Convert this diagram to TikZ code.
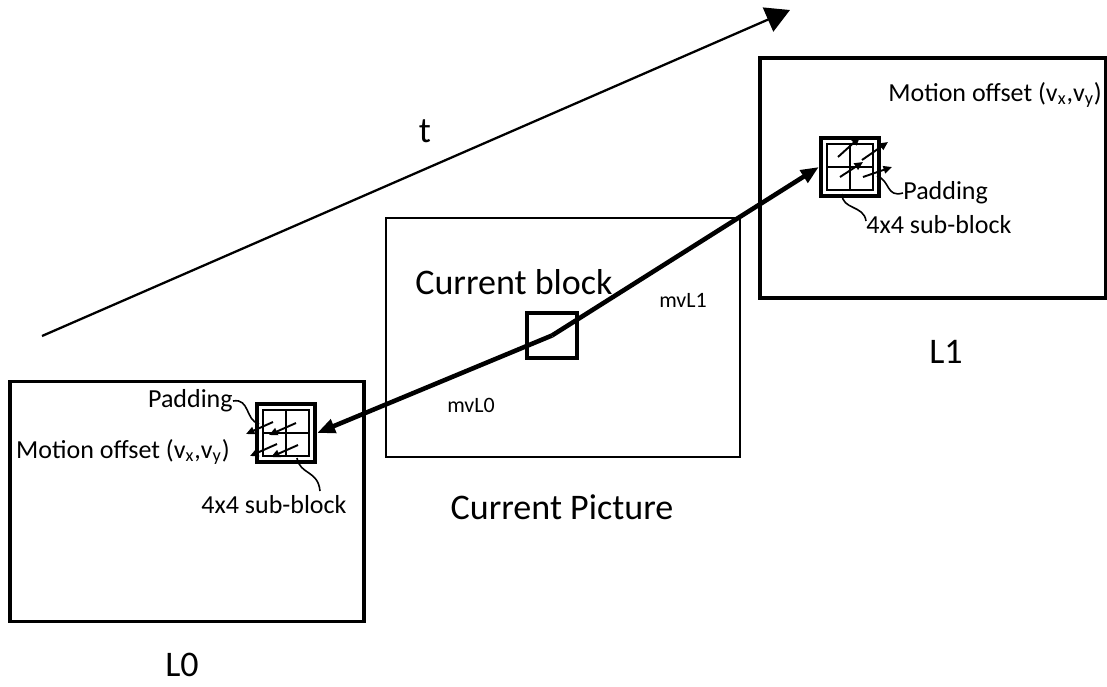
\documentclass[tikz,border=0pt]{standalone}
\usepackage{fontspec}
\setmainfont{Carlito}
\usetikzlibrary{arrows.meta}

\begin{document}
\begin{tikzpicture}[x=0.02cm, y=-0.02cm,
  every node/.style={inner sep=0pt, font=\fontsize{14.8}{17}\selectfont},
  bigtxt/.style={font=\fontsize{20.5}{24}\selectfont},
  mvtxt/.style={font=\fontsize{12.5}{15}\selectfont},
  picframe/.style={draw, line width=2pt, minimum width=7.08cm, minimum height=4.8cm},
  blkout/.style={draw, line width=2.4pt, minimum size=1.16cm},
  blkin/.style={draw, line width=1pt, minimum size=0.92cm},
  curblk/.style={draw, line width=1.8pt, minimum width=1cm, minimum height=0.9cm},
  mvarrow/.style={line width=2.6pt, -{Triangle[length=0.36cm, width=0.28cm]}},
  offarrow/.style={line width=1.1pt, -{Triangle[length=0.17cm, width=0.15cm]}},
  leader/.style={line width=0.9pt}]
\useasboundingbox (0,0) rectangle (1107,687);

% ============= time axis =============
\coordinate (tstart) at (42,336);
\coordinate (tend) at (790,10);
\draw[line width=1.3pt, -{Triangle[length=0.48cm, width=0.52cm]}] (tstart) -- (tend);
\node[bigtxt] (tlbl) at (425,131) {t};

% ============= three pictures =============
\node[picframe] (pic0) at (187,501.5) {};
\node[picframe, line width=1.6pt, minimum height=4.78cm] (piccur) at (563,337.5) {};
\node[picframe, minimum width=6.92cm] (pic1) at (933,178) {};

\node[bigtxt] (lbl0) at (182,665) {L0};
\node[bigtxt] (lblcur) at (562,507) {Current Picture};
\node[bigtxt] (lbl1) at (946,352) {L1};

% --- current block ---
\node[curblk] (cblk) at (552,335.5) {};
\node[bigtxt] (cblklbl) at (514,282) {Current block};

% --- reference blocks (padded, split in 4x4 sub-blocks) ---
\node[blkout] (blk0) at (286,433) {};
\node[blkin] (blk0in) at (blk0.center) {};
\draw[line width=1.4pt] (blk0in.north) -- (blk0in.south) (blk0in.west) -- (blk0in.east);

\node[blkout] (blk1) at (850,167) {};
\node[blkin] (blk1in) at (blk1.center) {};
\draw[line width=1.4pt] (blk1in.north) -- (blk1in.south) (blk1in.west) -- (blk1in.east);

% --- motion vectors ---
\draw[mvarrow] (cblk.center) -- (blk0.east);
\draw[mvarrow] (cblk.center) -- (blk1.west);
\node[mvtxt] (mv0lbl) at (471,405) {mvL0};
\node[mvtxt] (mv1lbl) at (683,300) {mvL1};

% --- per sub-block motion offsets ---
\foreach \sx/\sy in {-13/-11, 10/-10, -9/11, 12/12}
  \draw[offarrow] ([shift={(\sx,\sy)}]blk0.center) -- ++(-27,12);
\foreach \sx/\sy/\dx/\dy in {-12/-10/22/-20, 12/-7/26/-18, -10/10/23/-15, 13/10/29/-10}
  \draw[offarrow] ([shift={(\sx,\sy)}]blk1.center) -- ++(\dx,\dy);

% ============= callouts L0 =============
\node[anchor=east] (pad0) at (233,401) {Padding};
\node[anchor=east] (off0) at (230,452) {Motion offset (v\textsubscript{x},v\textsubscript{y})};
\node (sub0) at (274,505) {4x4 sub-block};
\coordinate (pad0tip) at (259,424);
\coordinate (sub0tip) at (297,458);
\coordinate (sub0end) at (320,491);
\draw[leader] (pad0.east) .. controls (250,398) and (245,420) .. (pad0tip);
\draw[leader] (sub0tip) .. controls (300,475) and (318,470) .. (sub0end);

% ============= callouts L1 =============
\node[anchor=west] (off1) at (888,95) {Motion offset (v\textsubscript{x},v\textsubscript{y})};
\node[anchor=west] (pad1) at (903,193) {Padding};
\node[anchor=west] (sub1) at (866,225) {4x4 sub-block};
\coordinate (pad1tip) at (877,176);
\coordinate (sub1tip) at (842,194);
\coordinate (sub1end) at (866,221);
\draw[leader] (pad1tip) .. controls (890,180) and (886,198) .. (pad1.west);
\draw[leader] (sub1tip) .. controls (842,210) and (864,205) .. (sub1end);
\end{tikzpicture}
\end{document}
